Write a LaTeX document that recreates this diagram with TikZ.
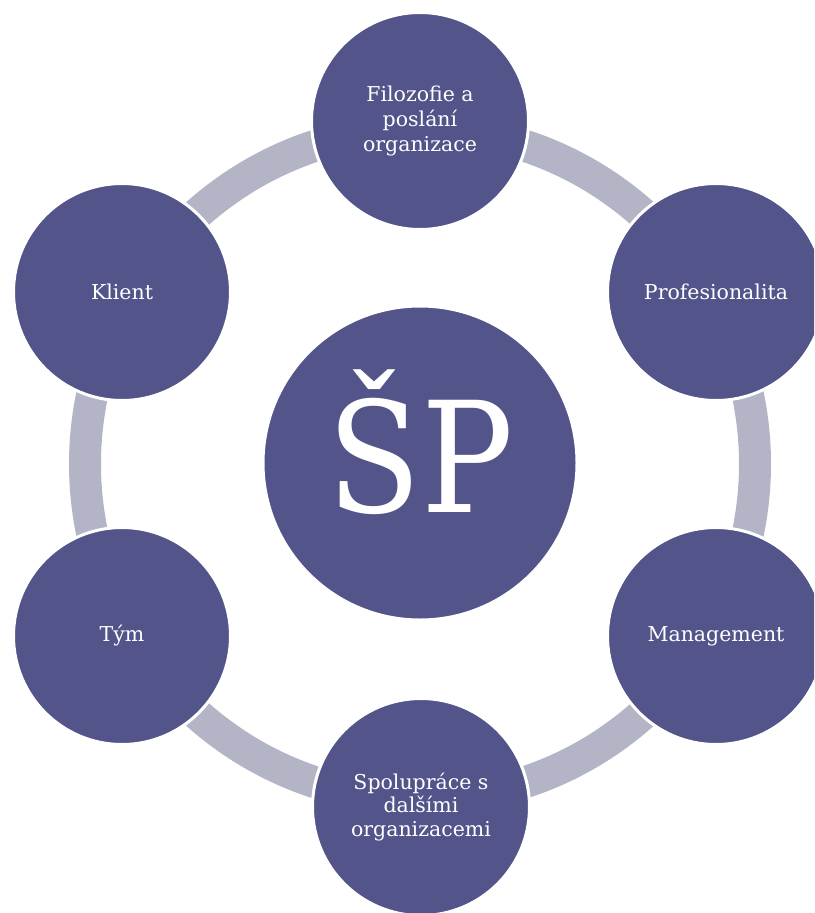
\documentclass[tikz,border=0pt]{standalone}
\usepackage{fontspec}
\setmainfont{DejaVu Serif}
\newfontfamily\bigspfont[FakeStretch=0.89]{DejaVu Serif}
\definecolor{circfill}{RGB}{83,85,138}
\definecolor{ringgray}{RGB}{180,180,199}
\tikzset{
  outer/.style={circle, minimum size=217pt, inner sep=0pt, fill=circfill, draw=white, line width=3pt,
    text=white, align=center, font=\fontsize{20.5pt}{25pt}\selectfont},
  centre/.style={circle, minimum size=313pt, inner sep=0pt, fill=circfill, draw=white, line width=2pt},
  ringline/.style={draw=ringgray, line width=32pt}
}
\begin{document}
\begin{tikzpicture}[x=1pt,y=-1pt]
\useasboundingbox (0,0) rectangle (814,913);
\clip (0,0) rectangle (814,913);
\coordinate (o) at (420,464);
\draw[ringline] (o) circle[radius=335pt];
\node[centre] (c) at (420,463) {};
\node[text=white, anchor=base, font=\bigspfont\fontsize{154pt}{160pt}\selectfont] (sp) at (421,512) {ŠP};
\node[outer] (n1) at (420,121) {Filozofie a\\poslání\\organizace};
\node[outer] (n2) at (716,292) {Profesionalita};
\node[outer] (n3) at (716,636) {Management};
\node[outer, font=\fontsize{20.5pt}{23.5pt}\selectfont] (n4) at (421,807) {Spolupráce s\\dalšími\\organizacemi};
\node[outer] (n5) at (122,636) {Tým};
\node[outer] (n6) at (122,292) {Klient};
\end{tikzpicture}
\end{document}
